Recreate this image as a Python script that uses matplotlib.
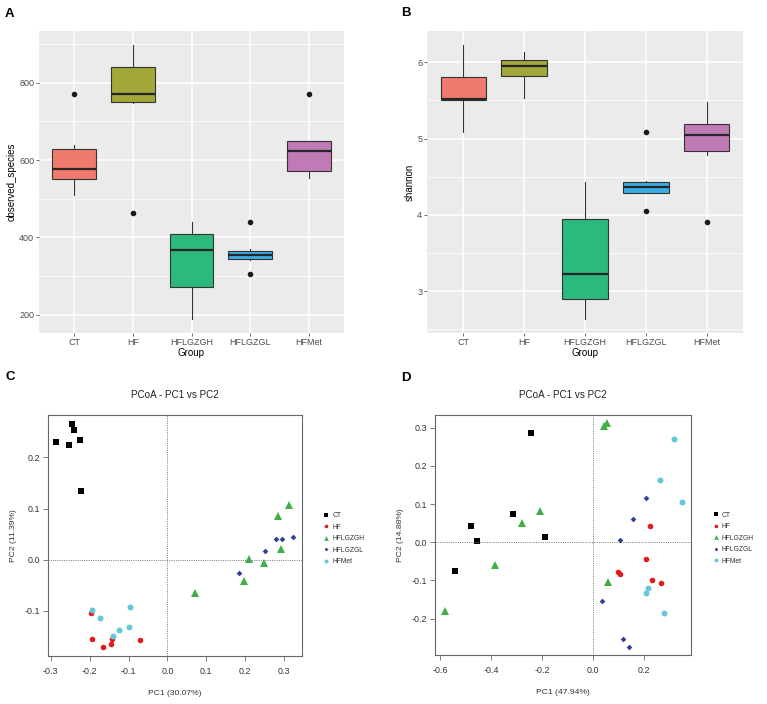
import matplotlib
matplotlib.use("Agg")
import matplotlib.pyplot as plt
from matplotlib.lines import Line2D

plt.rcParams["font.family"] = ["Liberation Sans", "DejaVu Sans"]

GROUPS = ["CT", "HF", "HFLGZGH", "HFLGZGL", "HFMet"]
BOX_COLORS = ["#F07A6D", "#A3A73A", "#2BB97D", "#3AAEE4", "#C07AB6"]

# panel A - observed species, box statistics
OBS_Q1 = [550, 751, 271, 344, 572]
OBS_MED = [578, 770, 368, 356, 624]
OBS_Q3 = [629, 840, 408, 366, 650]
OBS_LO = [510, 747, 189, 341, 554]
OBS_HI = [638, 899, 441, 369, 650]
OBS_FLIERS = [[770], [464], [], [441, 305], [771]]

# panel B - shannon
SHA_Q1 = [5.50, 5.82, 2.90, 4.29, 4.83]
SHA_MED = [5.52, 5.95, 3.23, 4.36, 5.04]
SHA_Q3 = [5.81, 6.03, 3.94, 4.43, 5.19]
SHA_LO = [5.09, 5.53, 2.63, 4.28, 4.78]
SHA_HI = [6.23, 6.14, 4.43, 4.44, 5.48]
SHA_FLIERS = [[], [], [], [5.08, 4.05], [3.91]]

# panel C - PCoA (PC1 30.07%, PC2 11.39%)
C_X = {
    "CT": [-0.246, -0.239, -0.286, -0.253, -0.224, -0.221],
    "HF": [-0.196, -0.193, -0.165, -0.145, -0.142, -0.071],
    "HFLGZGH": [0.072, 0.198, 0.211, 0.249, 0.285, 0.292, 0.312],
    "HFLGZGL": [0.183, 0.252, 0.279, 0.295, 0.322],
    "HFMet": [-0.194, -0.174, -0.139, -0.124, -0.100, -0.096],
}
C_Y = {
    "CT": [0.266, 0.254, 0.230, 0.224, 0.234, 0.134],
    "HF": [-0.103, -0.155, -0.171, -0.165, -0.155, -0.156],
    "HFLGZGH": [-0.065, -0.042, 0.001, -0.006, 0.085, 0.022, 0.108],
    "HFLGZGL": [-0.025, 0.018, 0.041, 0.040, 0.044],
    "HFMet": [-0.098, -0.113, -0.148, -0.137, -0.131, -0.093],
}

# panel D - PCoA (PC1 47.94%, PC2 14.88%)
D_X = {
    "CT": [-0.243, -0.480, -0.456, -0.313, -0.188, -0.542],
    "HF": [0.224, 0.207, 0.099, 0.107, 0.231, 0.265],
    "HFLGZGH": [0.043, 0.054, -0.208, -0.280, -0.384, 0.059, -0.582],
    "HFLGZGL": [0.207, 0.157, 0.106, 0.033, 0.116, 0.142],
    "HFMet": [0.318, 0.264, 0.348, 0.217, 0.207, 0.277],
}
D_Y = {
    "CT": [0.285, 0.043, 0.004, 0.075, 0.013, -0.076],
    "HF": [0.043, -0.044, -0.078, -0.082, -0.099, -0.106],
    "HFLGZGH": [0.305, 0.311, 0.083, 0.050, -0.059, -0.103, -0.181],
    "HFLGZGL": [0.117, 0.060, 0.007, -0.154, -0.254, -0.273],
    "HFMet": [0.270, 0.162, 0.105, -0.120, -0.133, -0.185],
}

PT_COLORS = {"CT": "black", "HF": "#E31A1C", "HFLGZGH": "#3FAF46",
             "HFLGZGL": "#2E3F99", "HFMet": "#66C6DA"}
PT_MARKERS = {"CT": "s", "HF": "o", "HFLGZGH": "^", "HFLGZGL": "D", "HFMet": "o"}
PT_SIZES = {"CT": 5.0, "HF": 4.0, "HFLGZGH": 5.2, "HFLGZGL": 2.9, "HFMet": 4.3}

W, H = 767, 704


def px_axes(fig, left, top, right, bottom):
    return fig.add_axes([left / W, 1 - bottom / H, (right - left) / W, (bottom - top) / H])


def draw_box(ax, q1, med, q3, lo, hi, fliers, ylabel, ylim, major, minor):
    stats = []
    for i, g in enumerate(GROUPS):
        stats.append({"label": g, "q1": q1[i], "med": med[i], "q3": q3[i],
                      "whislo": lo[i], "whishi": hi[i], "fliers": fliers[i]})
    ax.set_facecolor("#EBEBEB")
    bp = ax.bxp(stats, positions=range(1, 6), widths=0.75, patch_artist=True,
                showcaps=False,
                boxprops=dict(edgecolor="#333333", linewidth=0.8),
                medianprops=dict(color="#262626", linewidth=1.6),
                whiskerprops=dict(color="#333333", linewidth=0.8),
                flierprops=dict(marker="o", markerfacecolor="#1a1a1a",
                                markeredgecolor="#1a1a1a", markersize=3.0))
    for patch, c in zip(bp["boxes"], BOX_COLORS):
        patch.set_facecolor(c)
    ax.set_xlim(0.4, 5.6)
    ax.set_ylim(*ylim)
    ax.set_yticks(major)
    ax.set_yticks(minor, minor=True)
    ax.set_axisbelow(True)
    ax.grid(True, which="major", color="white", linewidth=1.1)
    ax.grid(True, which="minor", axis="y", color="white", linewidth=0.55)
    for s in ax.spines.values():
        s.set_visible(False)
    ax.tick_params(which="major", length=2.2, width=0.5, color="#333333",
                   labelsize=6.5, labelcolor="#4D4D4D", pad=1.2)
    ax.tick_params(which="minor", length=0)
    ax.set_xticklabels(GROUPS)
    ax.set_xlabel("Group", fontsize=7, labelpad=1.0)
    ax.set_ylabel(ylabel, fontsize=7, labelpad=2)


def draw_pcoa(ax, xs, ys, xlabel, ylabel, xlim, ylim, xticks, yticks):
    for g in GROUPS:
        ax.plot(xs[g], ys[g], linestyle="none", marker=PT_MARKERS[g],
                ms=PT_SIZES[g], color=PT_COLORS[g], mew=0, label=g)
    ax.axvline(0, color="#777777", linestyle=(0, (1, 1.3)), linewidth=0.7)
    ax.axhline(0, color="#777777", linestyle=(0, (1, 1.3)), linewidth=0.7)
    ax.set_xlim(*xlim)
    ax.set_ylim(*ylim)
    ax.set_xticks(xticks)
    ax.set_yticks(yticks)
    ax.set_xticklabels([f"{t:.1f}" for t in xticks])
    ax.set_yticklabels([f"{t:.1f}" for t in yticks])
    for s in ax.spines.values():
        s.set_color("#666666")
        s.set_linewidth(0.8)
    ax.tick_params(length=3.5, width=0.6, color="#666666", labelsize=6.4,
                   labelcolor="#333333")
    ax.tick_params(axis="x", pad=4.5)
    ax.tick_params(axis="y", pad=2.5)
    ax.set_title("PCoA - PC1 vs PC2", fontsize=7.1, color="#222222", pad=12)
    ax.set_xlabel(xlabel, fontsize=6.1, color="#333333", labelpad=10)
    ax.set_ylabel(ylabel, fontsize=6.1, color="#333333", labelpad=5)
    handles = [Line2D([], [], linestyle="none", marker=PT_MARKERS[g],
                      ms=PT_SIZES[g] * 0.65, color=PT_COLORS[g], mew=0)
               for g in GROUPS]
    ax.legend(handles, GROUPS, loc="center left", bbox_to_anchor=(1.075, 0.487),
              frameon=False, fontsize=4.9, handlelength=0.6, handletextpad=0.6,
              labelspacing=0.66, borderpad=0, labelcolor="#333333")


fig = plt.figure(figsize=(W / 100, H / 100), dpi=100)

ax_a = px_axes(fig, 39, 31, 344, 333)
draw_box(ax_a, OBS_Q1, OBS_MED, OBS_Q3, OBS_LO, OBS_HI, OBS_FLIERS,
         "observed_species", (153, 934), [200, 400, 600, 800], [300, 500, 700, 900])

ax_b = px_axes(fig, 427, 31, 743, 333)
draw_box(ax_b, SHA_Q1, SHA_MED, SHA_Q3, SHA_LO, SHA_HI, SHA_FLIERS,
         "shannon", (2.45, 6.41), [3, 4, 5, 6], [2.5, 3.5, 4.5, 5.5])

ax_c = px_axes(fig, 48, 415, 302, 656)
draw_pcoa(ax_c, C_X, C_Y, "PC1 (30.07%)", "PC2 (11.39%)", (-0.307, 0.346),
          (-0.188, 0.283), [-0.3, -0.2, -0.1, 0.0, 0.1, 0.2, 0.3], [-0.1, 0.0, 0.1, 0.2])

ax_d = px_axes(fig, 435, 415, 691, 655)
draw_pcoa(ax_d, D_X, D_Y, "PC1 (47.94%)", "PC2 (14.88%)", (-0.620, 0.384),
          (-0.295, 0.333), [-0.6, -0.4, -0.2, 0.0, 0.2], [-0.2, -0.1, 0.0, 0.1, 0.2, 0.3])

for letter, x, y in [("A", 5, 14), ("B", 401, 13), ("C", 5, 377.5), ("D", 401, 378)]:
    fig.text(x / W, 1 - y / H, letter, fontsize=9.5, fontweight="bold",
             ha="left", va="center")

fig.savefig("out.png", dpi=100)
